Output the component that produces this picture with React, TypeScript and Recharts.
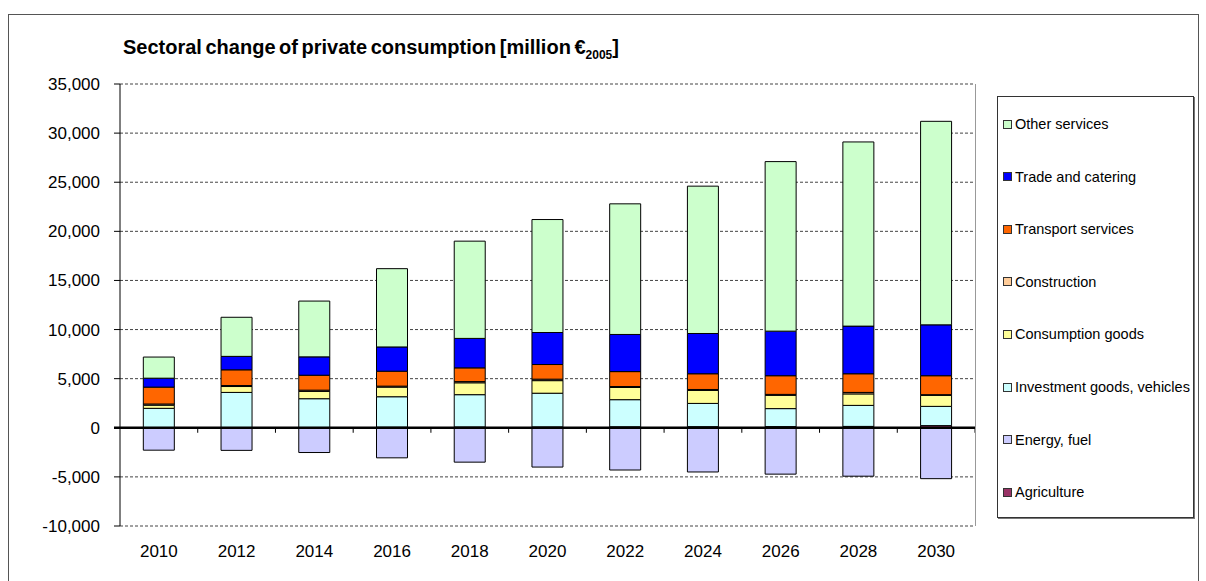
import React from 'react';
import {
  BarChart,
  Bar,
  XAxis,
  YAxis,
  CartesianGrid,
  ReferenceLine,
} from 'recharts';

const years = ['2010', '2012', '2014', '2016', '2018', '2020', '2022', '2024', '2026', '2028', '2030'];

// million €2005
const agriculture = [10, 20, 30, 60, 80, 90, 100, 110, 120, 140, 220];
const energy = [-2280, -2300, -2520, -3060, -3500, -4000, -4300, -4500, -4720, -4930, -5180];
const investment = [1970, 3580, 2930, 3100, 3290, 3430, 2760, 2370, 1830, 2140, 1960];
const consumption = [320, 600, 740, 980, 1210, 1280, 1240, 1320, 1350, 1170, 1120];
const construction = [120, 100, 130, 100, 120, 150, 100, 100, 100, 150, 70];
const transport = [1720, 1600, 1520, 1520, 1400, 1490, 1520, 1600, 1900, 1900, 1930];
const trade = [910, 1370, 1870, 2470, 3000, 3260, 3780, 4100, 4540, 4850, 5180];
const other = [2150, 3980, 5680, 7970, 9900, 11500, 13300, 15000, 17260, 18750, 20720];

const yTicks = [-10000, -5000, 0, 5000, 10000, 15000, 20000, 25000, 30000, 35000];

// stacking order bottom -> top
const series = [
  { key: 'agriculture', name: 'Agriculture', color: '#993366', values: agriculture },
  { key: 'energy', name: 'Energy, fuel', color: '#CCCCFF', values: energy },
  { key: 'investment', name: 'Investment goods, vehicles', color: '#CCFFFF', values: investment },
  { key: 'consumption', name: 'Consumption goods', color: '#FFFF99', values: consumption },
  { key: 'construction', name: 'Construction', color: '#FFCC99', values: construction },
  { key: 'transport', name: 'Transport services', color: '#FF6600', values: transport },
  { key: 'trade', name: 'Trade and catering', color: '#0000FF', values: trade },
  { key: 'other', name: 'Other services', color: '#CCFFCC', values: other },
];

const data = years.map((year, i) => {
  const row: Record<string, string | number> = { year };
  series.forEach((s) => {
    row[s.key] = s.values[i];
  });
  return row;
});

const FONT = '"Liberation Sans", Arial, sans-serif';

const fmt = (v: number) => v.toLocaleString('en-US');

// zero axis line with the category tick marks hanging below it
const ZeroAxis = (props: any) => {
  const { x1, y1, x2 } = props;
  const step = (x2 - x1) / years.length;
  return (
    <g>
      {years.map((_, i) => (
        <line key={i} x1={x1 + step * (i + 1)} x2={x1 + step * (i + 1)} y1={y1} y2={y1 + 5} stroke="#000" strokeWidth={1} />
      ))}
      <line x1={x1 - 6} y1={y1} x2={x2} y2={y1} stroke="#000" strokeWidth={2.5} />
    </g>
  );
};

function Legendbox() {
  const items = [...series].reverse();
  return (
    <div
      style={{
        position: 'absolute',
        left: 997,
        top: 96,
        width: 195,
        height: 420,
        border: '1px solid #333',
        boxShadow: '1px 1px 0 #777',
        fontFamily: FONT,
        fontSize: 14.5,
        color: '#000',
        background: '#fff',
      }}
    >
      {items.map((s, i) => (
        <div
          key={s.key}
          style={{
            position: 'absolute',
            left: 5,
            top: 19 + i * 52.6,
            display: 'flex',
            alignItems: 'center',
            whiteSpace: 'nowrap',
          }}
        >
          <span
            style={{
              display: 'inline-block',
              width: 7,
              height: 7,
              background: s.color,
              border: '1px solid #333',
              marginRight: 3,
            }}
          />
          {s.name}
        </div>
      ))}
    </div>
  );
}

export default function App() {
  return (
    <div style={{ position: 'absolute', left: 0, top: 0, width: 1206, height: 581, background: '#fff', overflow: 'hidden' }}>
      <div
        style={{
          position: 'absolute',
          left: 8,
          top: 14,
          width: 1189,
          height: 600,
          border: '1px solid #555',
        }}
      />
      <div
        style={{
          position: 'absolute',
          left: 123,
          top: 36,
          fontFamily: FONT,
          fontWeight: 'bold',
          fontSize: 20,
          wordSpacing: -2,
          color: '#000',
          whiteSpace: 'nowrap',
        }}
      >
        Sectoral change of private consumption [million €<sub style={{ fontSize: 12 }}>2005</sub>]
      </div>
      <div style={{ position: 'absolute', left: 0, top: 0 }}>
        <BarChart
          width={1206}
          height={581}
          data={data}
          stackOffset="sign"
          barCategoryGap="30%"
          margin={{ top: 84, right: 231, bottom: 25, left: 0 }}
        >
          <CartesianGrid vertical={false} stroke="#444" strokeDasharray="3 2" />
          <XAxis
            dataKey="year"
            axisLine={false}
            tickLine={false}
            height={30}
            tickMargin={13}
            tick={{ fontFamily: FONT, fontSize: 17, fill: '#000' }}
          />
          <YAxis
            width={120}
            domain={[-10000, 35000]}
            ticks={yTicks}
            interval={0}
            tickFormatter={fmt}
            axisLine={{ stroke: '#000' }}
            tickLine={{ stroke: '#000' }}
            tickMargin={14}
            tick={{ fontFamily: FONT, fontSize: 17, fill: '#000' }}
          />
          {series.map((s) => (
            <Bar
              key={s.key}
              dataKey={s.key}
              name={s.name}
              stackId="a"
              fill={s.color}
              stroke="#000"
              strokeWidth={1}
              isAnimationActive={false}
            />
          ))}
          <ReferenceLine y={0} shape={ZeroAxis} ifOverflow="visible" />
        </BarChart>
      </div>
      <div style={{ position: 'absolute', left: 975, top: 84, width: 1, height: 442, background: '#999' }} />
      <Legendbox />
    </div>
  );
}
